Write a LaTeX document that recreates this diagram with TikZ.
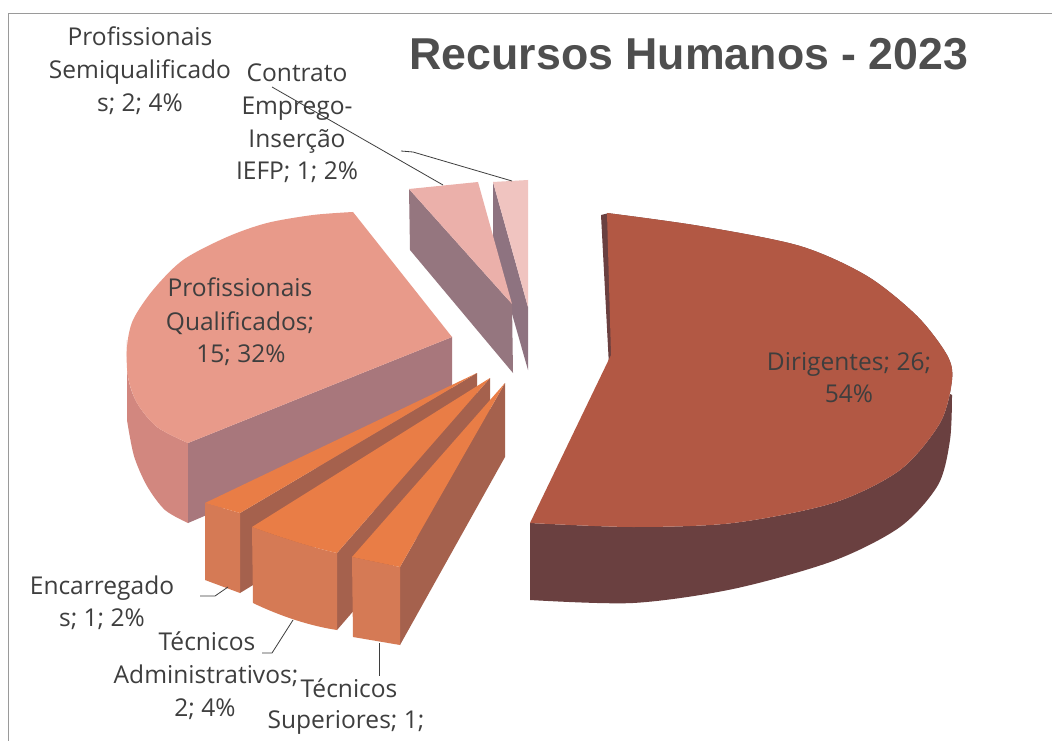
\documentclass[tikz,border=0pt]{standalone}
\usepackage{fontspec}
\setmainfont{Open Sans}
\newfontfamily\titlefont{Liberation Sans}
\definecolor{txt}{HTML}{3E3E3E}
\definecolor{ttl}{HTML}{4E4E4E}
\definecolor{framec}{HTML}{9A9A9A}
\definecolor{dtopc}{HTML}{B25844}
\definecolor{dsidec}{HTML}{6A4040}
\definecolor{pqtopc}{HTML}{E89A8A}
\definecolor{pqsidec}{HTML}{D2877F}
\definecolor{pqgrayc}{HTML}{A8777C}
\definecolor{smtopc}{HTML}{EBB0AA}
\definecolor{smsidec}{HTML}{95767F}
\definecolor{cttopc}{HTML}{F0C4C0}
\definecolor{ctsidec}{HTML}{8E7380}
\definecolor{ortopc}{HTML}{E97D46}
\definecolor{orfrontc}{HTML}{D57A55}
\definecolor{orradc}{HTML}{A5614D}
\tikzset{
  lbl/.style={font=\fontsize{18.4}{22}\selectfont, text=txt, anchor=base, inner sep=0pt},
  lead/.style={draw=txt, line width=0.6pt},
  framel/.style={draw=framec, line width=0.6pt}
}
\begin{document}
\begin{tikzpicture}[x=0.75pt,y=-0.75pt,line join=round]
\useasboundingbox (0,0) rectangle (1052,741);
\fill[white] (0,0) rectangle (1052,741);
\draw[framel] (8,741) -- (8,13) -- (1052,13);

% Contrato Emprego-Insercao slice
\fill[ctsidec] (493,182) -- (528,307) -- (528,370) -- (493,247) -- cycle;
\fill[cttopc] (493,182) -- (528,180) -- (528,307) -- cycle;
% Profissionais Semiqualificados slice
\fill[smsidec] (409,189) -- (512,304) -- (513,373) -- (410,250) -- cycle;
\fill[smtopc] (409,189) -- (478,182) -- (512,304) -- cycle;

% Profissionais Qualificados slice
\fill[pqsidec] plot[smooth] coordinates {(127,340) (128,377) (137,403) (157,427) (188,443)} -- (188,523)
  -- plot[smooth] coordinates {(188,523) (165,510) (147,486) (134,456) (127,420)} -- cycle;
\fill[pqgrayc] (188,443) -- (452,337) -- (452,410) -- (188,523) -- cycle;
\fill[pqtopc] plot[smooth] coordinates {(353,212) (313,215) (267,223) (227,237) (183,260) (153,290) (133,320) (127,347) (128,377) (137,403) (157,427) (188,443)} -- (452,337) -- cycle;

% Dirigentes slice
\fill[dsidec] (601,215) -- (609,213) -- (612,356) -- (609,366) -- cycle;
\fill[dsidec] plot[smooth] coordinates {(607,213) (700,226) (800,246) (867,276) (917,316) (947,355) (952,380) (940,423) (900,470) (833,503) (733,523) (633,527) (530,523)} -- (530,600)
  -- plot[smooth] coordinates {(530,600) (633,603) (733,589) (833,561) (900,527) (938,485) (950,440) (952,395)} -- cycle;
\fill[dtopc] plot[smooth] coordinates {(607,213) (700,226) (800,246) (867,276) (917,316) (947,355) (952,380) (940,423) (900,470) (833,503) (733,523) (633,527) (530,523)} -- (611,355) -- cycle;

% Encarregados slice
\fill[orradc] (240,513) -- (477,373) -- (477,448) -- (240,593) -- cycle;
\fill[orfrontc] (205,503) -- (240,513) -- (240,593) -- (205,580) -- cycle;
\fill[ortopc] (205,503) -- (240,513) -- (477,373) -- cycle;
% Tecnicos Administrativos slice
\fill[orradc] (337,553) -- (490,378) -- (490,453) -- (337,630) -- cycle;
\fill[orfrontc] (252,527) .. controls (280,537) and (310,547) .. (337,553) -- (337,630) .. controls (310,626) and (280,616) .. (253,603) -- cycle;
\fill[ortopc] (252,527) .. controls (280,537) and (310,547) .. (337,553) -- (490,378) -- cycle;
% Tecnicos Superiores slice
\fill[orradc] (400,567) -- (505,383) -- (505,457) -- (400,645) -- cycle;
\fill[orfrontc] (352,557) -- (400,567) -- (400,645) -- (353,637) -- cycle;
\fill[ortopc] (352,557) -- (400,567) -- (505,383) -- cycle;

% title
\node[anchor=base, inner sep=0pt, text=ttl, font=\titlefont\bfseries\fontsize{33.5}{40}\selectfont] (title) at (689,70) {Recursos Humanos - 2023};

% labels
\node[lbl] (sm1) at (140,46) {Profissionais};
\node[lbl] (sm2) at (140,79) {Semiqualificado};
\node[lbl] (sm3) at (140,112) {s; 2; 4\%};
\node[lbl] (ct1) at (297,82) {Contrato};
\node[lbl] (ct2) at (297,115) {Emprego-};
\node[lbl] (ct3) at (297,148) {Inserção};
\node[lbl] (ct4) at (297,180) {IEFP; 1; 2\%};
\node[lbl] (pq1) at (240,297) {Profissionais};
\node[lbl] (pq2) at (240,330) {Qualificados;};
\node[lbl] (pq3) at (241,362) {15; 32\%};
\node[lbl] (di1) at (849,370) {Dirigentes; 26;};
\node[lbl] (di2) at (849,402) {54\%};
\node[lbl] (en1) at (102,594) {Encarregado};
\node[lbl] (en2) at (102,626) {s; 1; 2\%};
\node[lbl] (ta1) at (207,650) {Técnicos};
\node[lbl] (ta2) at (206,683) {Administrativos;};
\node[lbl] (ta3) at (205,716) {2; 4\%};
\node[lbl] (ts1) at (349,697) {Técnicos};
\node[lbl] (ts2) at (346,728) {Superiores; 1;};

% leader lines
\coordinate (smA) at (272,87);
\coordinate (smB) at (443,185);
\draw[lead] (smA) -- (smB);
\coordinate (ctA) at (401,151);
\coordinate (ctB) at (413,152);
\coordinate (ctC) at (512,181);
\draw[lead] (ctA) -- (ctB) -- (ctC);
\coordinate (enA) at (200,596);
\coordinate (enB) at (215,596);
\coordinate (enC) at (228,587);
\draw[lead] (enA) -- (enB) -- (enC);
\coordinate (taA) at (262,653);
\coordinate (taB) at (272,653);
\coordinate (taC) at (293,620);
\draw[lead] (taA) -- (taB) -- (taC);
\coordinate (tsA) at (379,643);
\coordinate (tsB) at (379,676);
\draw[lead] (tsA) -- (tsB);
\end{tikzpicture}
\end{document}
